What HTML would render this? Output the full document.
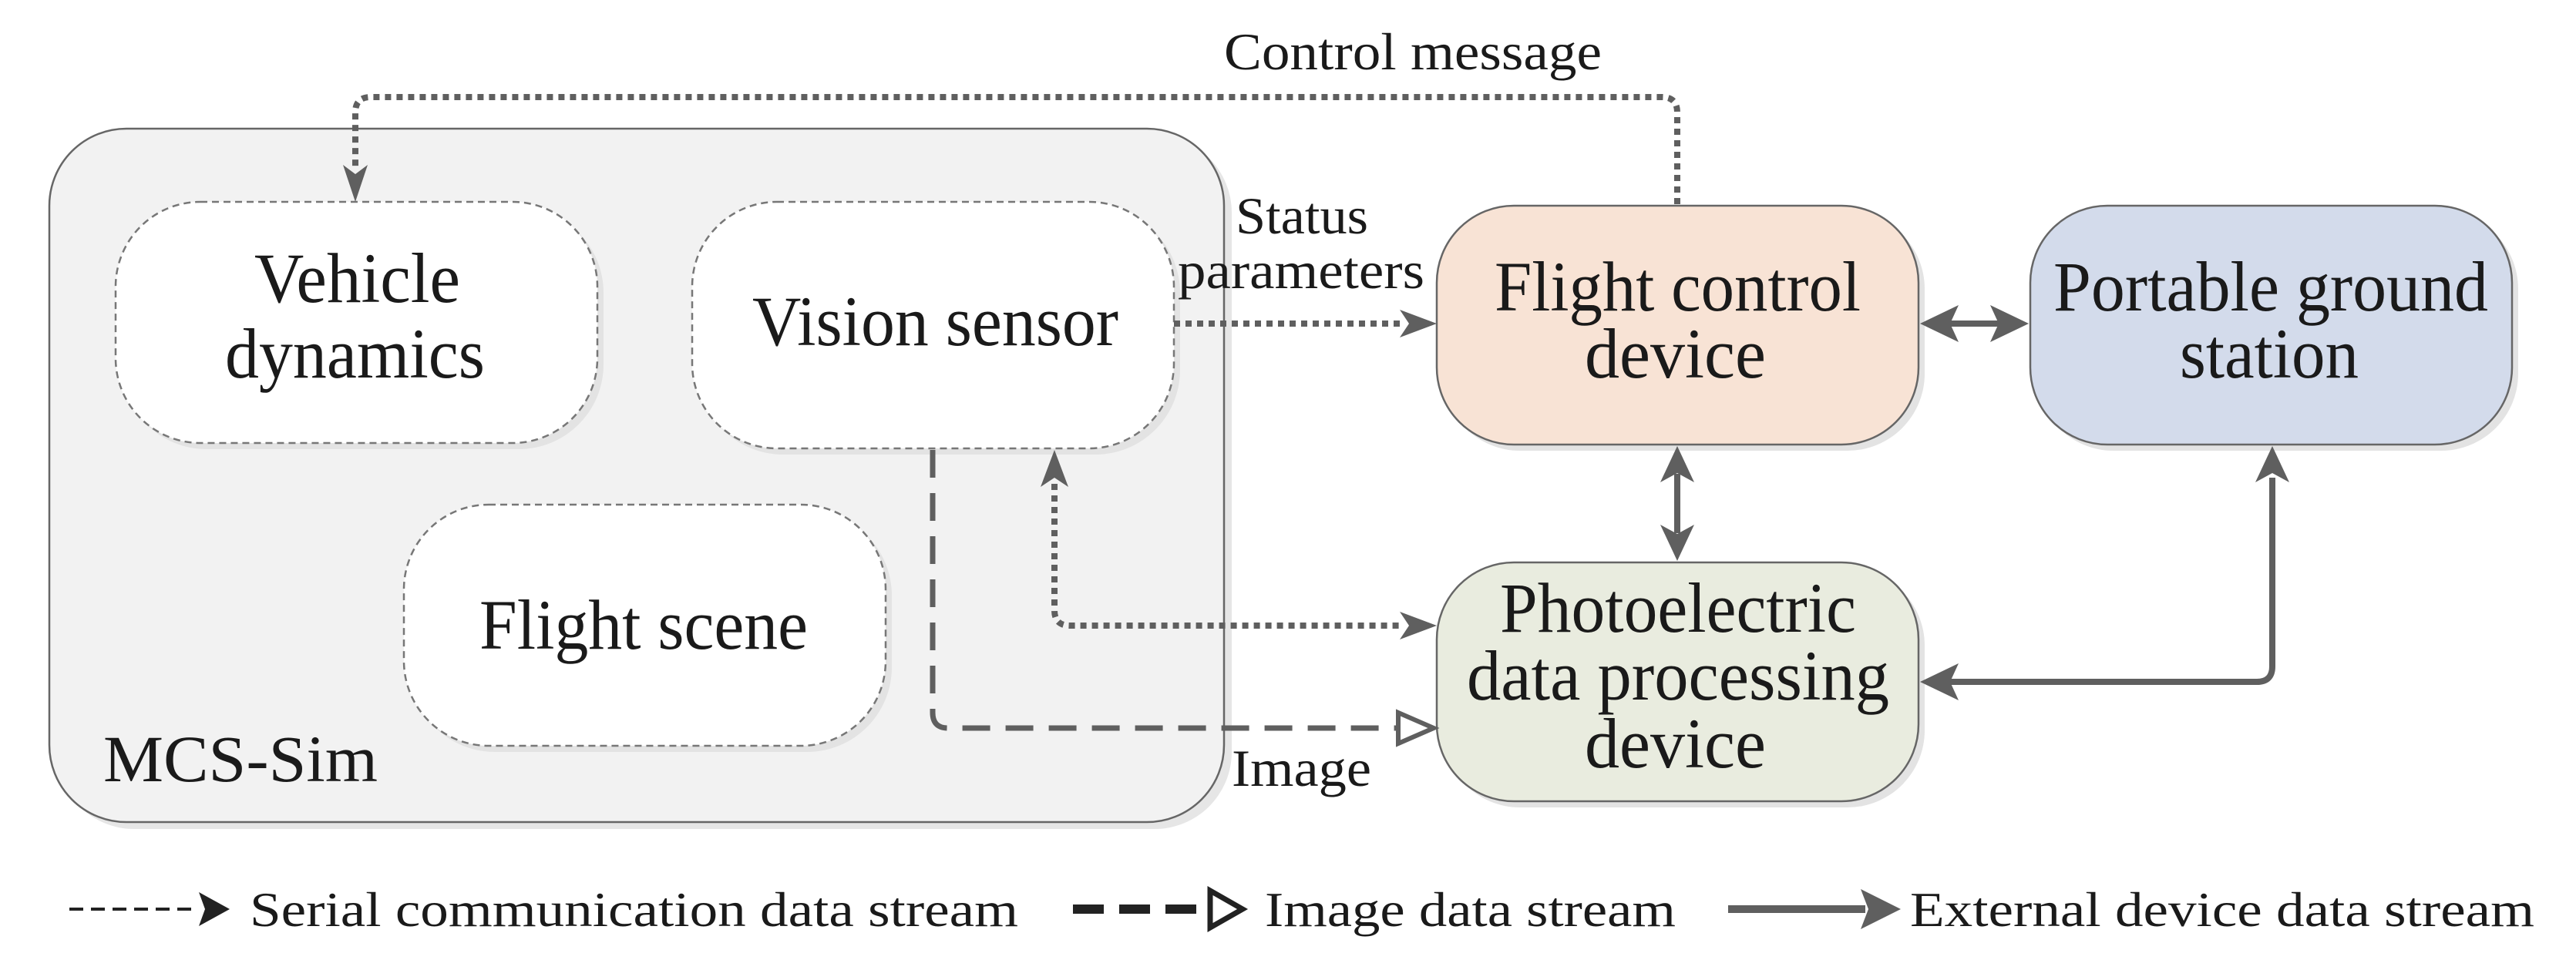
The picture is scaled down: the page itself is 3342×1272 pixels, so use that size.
<!DOCTYPE html>
<html><head><meta charset="utf-8"><style>
html,body{margin:0;padding:0;background:#fff;}
svg{display:block;}
text{font-family:"Liberation Serif",serif;fill:#1a1a1a;}
</style></head><body>
<svg width="3342" height="1272" viewBox="0 0 3342 1272" xmlns="http://www.w3.org/2000/svg">
<!-- MCS-Sim container -->
<rect x="74" y="176" width="1524" height="900" rx="100" fill="#e6e6e6"/>
<rect x="64" y="167" width="1524" height="900" rx="100" fill="#f2f2f2" stroke="#666" stroke-width="2.5"/>
<!-- inner boxes -->
<g stroke="#777" stroke-width="2.5" stroke-dasharray="9 6">
<rect x="158" y="270" width="625" height="313" rx="110" fill="#e3e3e3" stroke="none"/>
<rect x="150" y="262" width="625" height="313" rx="110" fill="#fff"/>
<rect x="906" y="270" width="625" height="320" rx="110" fill="#e3e3e3" stroke="none"/>
<rect x="898" y="262" width="625" height="320" rx="110" fill="#fff"/>
<rect x="532" y="663" width="625" height="313" rx="110" fill="#e3e3e3" stroke="none"/>
<rect x="524" y="655" width="625" height="313" rx="110" fill="#fff"/>
</g>
<!-- right boxes -->
<rect x="1872" y="275" width="625" height="310" rx="100" fill="#e3e3e3"/>
<rect x="1864" y="267" width="625" height="310" rx="100" fill="#f8e3d5" stroke="#666" stroke-width="2.5"/>
<rect x="2642" y="275" width="625" height="310" rx="100" fill="#e3e3e3"/>
<rect x="2634" y="267" width="625" height="310" rx="100" fill="#d3dbeb" stroke="#666" stroke-width="2.5"/>
<rect x="1872" y="738" width="625" height="310" rx="100" fill="#e3e3e3"/>
<rect x="1864" y="730" width="625" height="310" rx="100" fill="#e9ecdf" stroke="#666" stroke-width="2.5"/>

<!-- connectors -->
<g fill="none" stroke="#5f5f5f" stroke-width="8" stroke-dasharray="8 7">
<path d="M2176,265 V146 Q2176,126 2156,126 H481 Q461,126 461,146 V220"/>
<path d="M1523,420 H1820"/>
<path d="M1368,628 V792 Q1368,812 1388,812 H1820"/>
</g>
<g fill="#5f5f5f">
<path d="M461,262 L445,214 L461,226 L477,214 Z"/>
<path d="M1864,420 L1816,402 L1828,420 L1816,438 Z"/>
<path d="M1864,812 L1816,794 L1828,812 L1816,830 Z"/>
<path d="M1368,584 L1350,632 L1368,620 L1386,632 Z"/>
</g>
<path d="M1210,584 V925 Q1210,945 1230,945 H1812" fill="none" stroke="#5f5f5f" stroke-width="7" stroke-dasharray="36 20"/>
<path d="M1814,925 L1860,945 L1814,965 Z" fill="#fff" stroke="#5f5f5f" stroke-width="6"/>
<g fill="none" stroke="#5f5f5f" stroke-width="8">
<path d="M2530,420 H2594"/>
<path d="M2176,615 V692"/>
<path d="M2948,620 V865 Q2948,885 2928,885 H2530"/>
</g>
<g fill="#5f5f5f">
<path d="M2491,420 L2541,396 L2530,420 L2541,444 Z"/>
<path d="M2632,420 L2582,396 L2593,420 L2582,444 Z"/>
<path d="M2176,579 L2154,626 L2176,614 L2198,626 Z"/>
<path d="M2176,728 L2154,681 L2176,693 L2198,681 Z"/>
<path d="M2948,579 L2926,626 L2948,614 L2970,626 Z"/>
<path d="M2491,885 L2541,861 L2530,885 L2541,909 Z"/>
</g>

<!-- labels -->
<g font-size="92" lengthAdjust="spacingAndGlyphs">
<text x="330" y="392" textLength="267" lengthAdjust="spacingAndGlyphs">Vehicle</text>
<text x="292" y="490" textLength="337" lengthAdjust="spacingAndGlyphs">dynamics</text>
<text x="976" y="448" textLength="475" lengthAdjust="spacingAndGlyphs">Vision sensor</text>
<text x="622" y="842" textLength="426" lengthAdjust="spacingAndGlyphs">Flight scene</text>
<text x="1939" y="403" textLength="475" lengthAdjust="spacingAndGlyphs">Flight control</text>
<text x="2056" y="490" textLength="235" lengthAdjust="spacingAndGlyphs">device</text>
<text x="2664" y="403" textLength="564" lengthAdjust="spacingAndGlyphs">Portable ground</text>
<text x="2828" y="490" textLength="232" lengthAdjust="spacingAndGlyphs">station</text>
<text x="1946" y="820" textLength="462" lengthAdjust="spacingAndGlyphs">Photoelectric</text>
<text x="1903" y="908" textLength="548" lengthAdjust="spacingAndGlyphs">data processing</text>
<text x="2056" y="996" textLength="235" lengthAdjust="spacingAndGlyphs">device</text>
<text x="134" y="1014" font-size="86" textLength="356" lengthAdjust="spacingAndGlyphs">MCS-Sim</text>
</g>
<g font-size="68">
<text x="1588" y="90" textLength="490" lengthAdjust="spacingAndGlyphs">Control message</text>
<text x="1603" y="303" textLength="172" lengthAdjust="spacingAndGlyphs">Status</text>
<text x="1528" y="374" textLength="320" lengthAdjust="spacingAndGlyphs">parameters</text>
<text x="1598" y="1020" textLength="181" lengthAdjust="spacingAndGlyphs">Image</text>
</g>

<!-- legend -->
<path d="M90,1180 H252" stroke="#222" stroke-width="4" stroke-dasharray="18 10" fill="none"/>
<path d="M298,1180 L258,1158 L266,1180 L258,1202 Z" fill="#222"/>
<text x="324" y="1202" font-size="64" textLength="997" lengthAdjust="spacingAndGlyphs">Serial communication data stream</text>
<path d="M1392,1180 H1566" stroke="#222" stroke-width="12" stroke-dasharray="40 20" fill="none"/>
<path d="M1570,1156 L1612,1180 L1570,1204 Z" fill="#fff" stroke="#222" stroke-width="7"/>
<text x="1641" y="1202" font-size="64" textLength="533" lengthAdjust="spacingAndGlyphs">Image data stream</text>
<path d="M2242,1180 H2420" stroke="#5f5f5f" stroke-width="10" fill="none"/>
<path d="M2466,1180 L2414,1154 L2424,1180 L2414,1206 Z" fill="#5f5f5f"/>
<text x="2478" y="1202" font-size="64" textLength="810" lengthAdjust="spacingAndGlyphs">External device data stream</text>
</svg>
</body></html>
